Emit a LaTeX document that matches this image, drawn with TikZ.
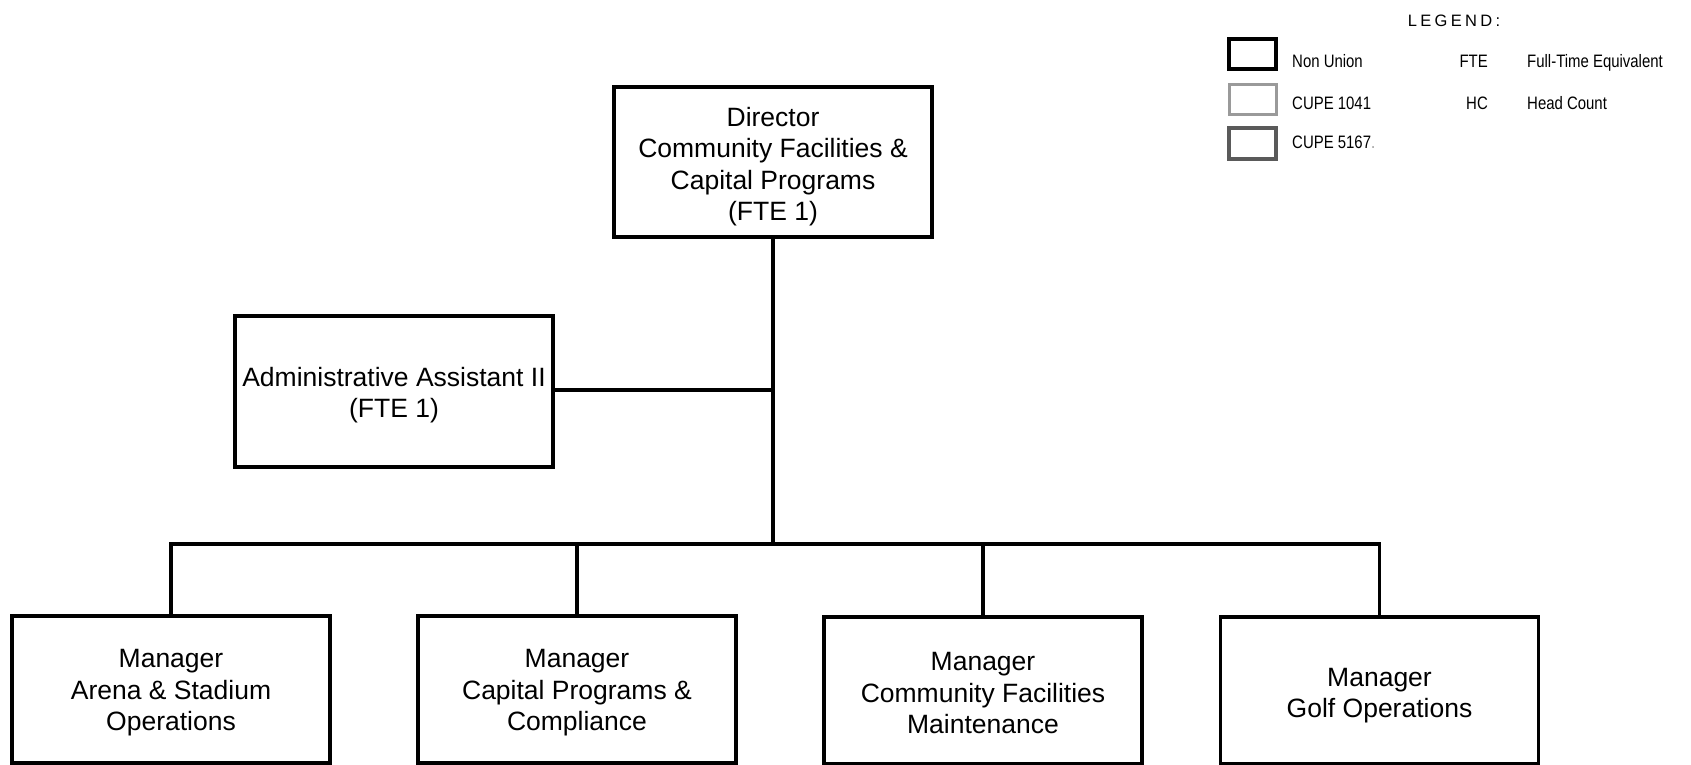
\documentclass[tikz,border=0pt]{standalone}
\usepackage{fontspec}
\setmainfont{Liberation Sans}
\usepackage{graphicx}
\definecolor{legA}{HTML}{000000}
\definecolor{legB}{HTML}{9A9A9A}
\definecolor{legC}{HTML}{5A5A5A}
\newcommand{\legn}[1]{\scalebox{0.83}[1]{#1}}
\begin{document}
\begin{tikzpicture}[x=1pt,y=-1pt,
  box/.style={draw, line width=3.8pt, rectangle, inner sep=0pt, minimum width=318pt},
  mgr/.style={box, minimum height=147pt},
  txt/.style={align=center, inner sep=0pt, font=\fontsize{26.5}{31.5}\selectfont},
  conn/.style={line width=3.6pt},
  legbox/.style={draw, rectangle, minimum width=47pt, minimum height=30pt, inner sep=0pt},
  legtxt/.style={anchor=base west, inner sep=0pt, font=\fontsize{18}{20}\selectfont}]
\useasboundingbox (0,0) rectangle (1691,765);

% main boxes
\node[box, minimum height=150pt] (dir) at (773,162) {};
\node[box, minimum height=151pt] (adm) at (394,391.5) {};
\node[mgr] (m1) at (171,689.5) {};
\node[mgr] (m2) at (577,689.5) {};
\node[mgr] (m3) at (983,690.5) {};
\node[mgr] (m4) at (1379.5,690.5) {};

% texts
\node[txt] (dirt) at ([yshift=-4.5pt]dir.center) {Director\\Community Facilities \&\\Capital Programs\\(FTE 1)};
\node[txt] (admt) at ([yshift=-3.5pt]adm.center) {Administrative Assistant II\\(FTE 1)};
\node[txt] (m1t) at ([yshift=-3.5pt]m1.center) {Manager\\Arena \& Stadium\\Operations};
\node[txt] (m2t) at ([yshift=-3.5pt]m2.center) {Manager\\Capital Programs \&\\Compliance};
\node[txt] (m3t) at ([yshift=-3pt]m3.center) {Manager\\Community Facilities\\Maintenance};
\node[txt] (m4t) at ([yshift=-5pt]m4.center) {Manager\\Golf Operations};

% connectors
\coordinate (bus) at (773,544);
\draw[conn] (dir.south) -- (bus);
\draw[conn] (adm.east) ++(0,-1.5) coordinate (ae) -- (ae -| dir.south);
\draw[conn] (m1.north) |- (bus) -| (m4.north);
\draw[conn] (m2.north) -- (m2.north |- bus);
\draw[conn] (m3.north) -- (m3.north |- bus);

% legend
\node[anchor=base, inner sep=0pt, font=\fontsize{16.5}{20}\selectfont\addfontfeatures{LetterSpace=20}] (legt) at (1454,27) {LEGEND:};
\node[legbox, draw=legA, line width=4pt] (lb1) at (1252.5,54.5) {};
\node[legbox, draw=legB, line width=3pt] (lb2) at (1252.5,99.5) {};
\node[legbox, draw=legC, line width=4pt] (lb3) at (1252.5,143.5) {};
\node[legtxt] (lt1) at (1292,68) {\legn{Non Union}};
\node[legtxt] (lt2) at (1292,110) {\legn{CUPE 1041}};
\node[legtxt] (lt3) at (1292,148) {\legn{CUPE 5167{\color{legB}.}}};
\node[legtxt, anchor=base east] (la1) at (1488,68) {\legn{FTE}};
\node[legtxt, anchor=base east] (la2) at (1488,110) {\legn{HC}};
\node[legtxt] (ld1) at (1527,68) {\legn{Full-Time Equivalent}};
\node[legtxt] (ld2) at (1527,110) {\legn{Head Count}};
\end{tikzpicture}
\end{document}
